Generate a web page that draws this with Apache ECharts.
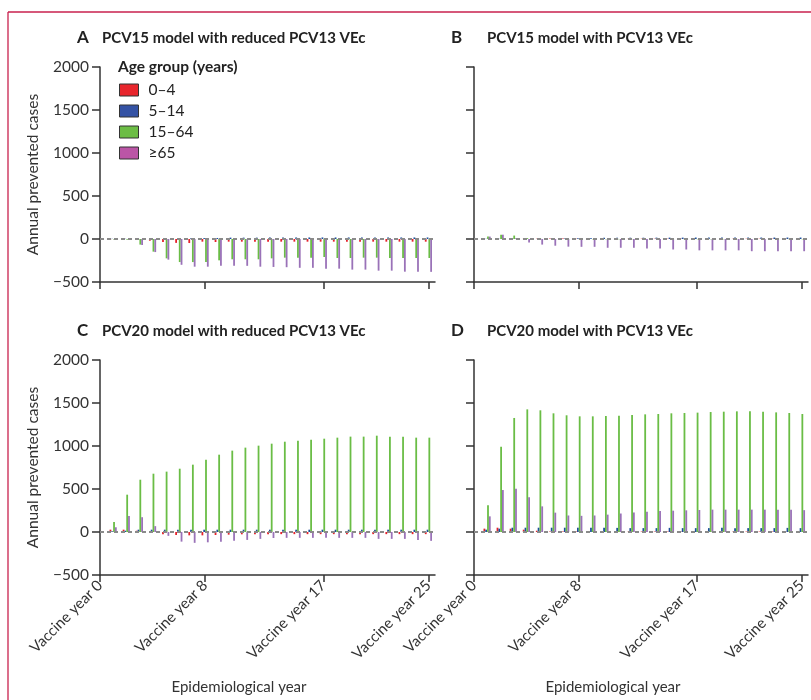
<!DOCTYPE html>
<html>
<head>
<meta charset="utf-8">
<title>Annual prevented cases by age group</title>
<script src="https://cdn.jsdelivr.net/npm/echarts@6/dist/echarts.min.js"></script>
<style>
  html, body { margin: 0; padding: 0; background: #fff; }
  #main { width: 811px; height: 700px; }
</style>
</head>
<body>
<div id="main"></div>
<script>
// epidemiological years with bars (year 0 has none)
var years = [1, 2, 3, 4, 5, 6, 7, 8, 9, 10, 11, 12, 13, 14, 15, 16, 17, 18, 19, 20, 21, 22, 23, 24, 25];
var tickYears = [0, 8, 17, 25];
var ageGroups = ['0–4', '5–14', '15–64', '≥65'];

// A  PCV15 model with reduced PCV13 VEc
var aRed = [-4, -6, -8, -20, -35, -45, -47, -31, -35, -31, -31, -31, -31, -31, -31, -31, -31, -31, -31, -31, -31, -31, -31, -31, -31];
var aBlue = [2, 2, 0, 3, 5, 6, 8, 10, 12, 16, 16, 16, 18, 18, 18, 18, 18, 18, 18, 18, 18, 18, 18, 18, 18];
var aGreen = [-5, -8, -65, -147, -225, -268, -268, -268, -248, -236, -236, -236, -225, -217, -217, -217, -209, -221, -221, -217, -217, -221, -221, -221, -221];
var aPurple = [-5, -10, -70, -152, -240, -300, -322, -322, -312, -312, -312, -322, -325, -328, -335, -335, -345, -345, -356, -356, -368, -368, -380, -380, -382];

// B  PCV15 model with PCV13 VEc
var bRed = [0, 3, 5, 3, 3, 5, 5, 3, 3, 3, 3, 3, 3, 3, 3, 3, 3, 3, 3, 3, 3, 3, 3, 3, 3];
var bBlue = [2, 2, 2, 3, 5, 5, 6, 8, 10, 14, 15, 15, 15, 16, 16, 16, 17, 17, 17, 17, 17, 17, 17, 17, 17];
var bGreen = [30, 50, 40, 10, 3, -5, -5, -5, -3, -3, -3, -3, -3, -3, -3, -3, -3, -3, -3, -3, -3, -3, -3, -3, -3];
var bPurple = [28, 50, 8, -40, -65, -78, -89, -91, -91, -102, -102, -102, -110, -110, -122, -122, -132, -132, -132, -132, -142, -142, -142, -142, -142];

// C  PCV20 model with reduced PCV13 VEc
var cRed = [27, 27, 15, 5, -27, -35, -39, -39, -35, -31, -27, -25, -25, -25, -25, -25, -25, -25, -25, -25, -25, -25, -25, -25, -25];
var cBlue = [8, 15, 27, 27, 27, 27, 27, 27, 27, 27, 27, 27, 27, 27, 27, 27, 27, 27, 27, 27, 27, 27, 27, 27, 27];
var cGreen = [115, 434, 608, 678, 702, 736, 783, 841, 899, 946, 981, 1004, 1027, 1050, 1062, 1074, 1085, 1097, 1109, 1109, 1120, 1109, 1109, 1097, 1097];
var cPurple = [55, 185, 172, 68, -45, -112, -126, -120, -112, -103, -92, -80, -70, -68, -68, -68, -68, -68, -68, -68, -80, -80, -80, -92, -103];

// D  PCV20 model with PCV13 VEc
var dRed = [39, 50, 39, 27, 15, 5, 5, 5, 5, 5, 5, 5, 5, 5, 5, 5, 5, 5, 5, 5, 5, 5, 5, 5, 5];
var dBlue = [27, 39, 50, 50, 50, 50, 50, 50, 50, 50, 48, 45, 45, 45, 48, 45, 45, 45, 48, 45, 45, 45, 45, 48, 45];
var dGreen = [310, 992, 1326, 1426, 1415, 1380, 1357, 1345, 1345, 1349, 1353, 1360, 1368, 1372, 1380, 1384, 1388, 1395, 1399, 1403, 1403, 1399, 1391, 1384, 1372];
var dPurple = [182, 488, 502, 405, 298, 225, 192, 188, 192, 202, 215, 227, 236, 244, 248, 252, 256, 260, 260, 260, 260, 260, 260, 258, 254];

var font = 'Lato, "Noto Sans", sans-serif';
var barColors = ['#e5202a', '#1c4f9c', '#6abd45', '#9a72b8'];
var legendColors = ['#e8262d', '#3452a4', '#6cbd45', '#bb55a6'];

var panels = [
  { letter: 'A', title: 'PCV15 model with reduced PCV13 VEc', grid: { left: 100, top: 67, width: 335, height: 215 },
    yLabels: true, xLabels: false, data: [aRed, aBlue, aGreen, aPurple] },
  { letter: 'B', title: 'PCV15 model with PCV13 VEc', grid: { left: 474, top: 67, width: 334, height: 215 },
    yLabels: false, xLabels: false, data: [bRed, bBlue, bGreen, bPurple] },
  { letter: 'C', title: 'PCV20 model with reduced PCV13 VEc', grid: { left: 100, top: 360, width: 335, height: 215 },
    yLabels: true, xLabels: true, data: [cRed, cBlue, cGreen, cPurple] },
  { letter: 'D', title: 'PCV20 model with PCV13 VEc', grid: { left: 474, top: 360, width: 334, height: 215 },
    yLabels: false, xLabels: true, data: [dRed, dBlue, dGreen, dPurple] }
];

var axisStyle = { color: '#333', width: 1.5 };

var grids = [], xAxes = [], yAxes = [], series = [], graphics = [];

panels.forEach(function (p, i) {
  grids.push(p.grid);
  xAxes.push({
    type: 'value', gridIndex: i, min: 0, max: 25.5,
    axisLine: { show: true, onZero: false, lineStyle: axisStyle },
    axisTick: { show: true, length: 7, customValues: tickYears, lineStyle: axisStyle },
    axisLabel: {
      show: p.xLabels, customValues: tickYears, rotate: 45, margin: 8,
      fontFamily: font, fontSize: 15, color: '#333',
      formatter: function (v) { return 'Vaccine year ' + v; }
    },
    splitLine: { show: false }
  });
  yAxes.push({
    type: 'value', gridIndex: i, min: -500, max: 2000, interval: 500,
    name: p.yLabels ? 'Annual prevented cases' : '',
    nameLocation: 'middle', nameGap: 59,
    nameTextStyle: { fontFamily: font, fontSize: 15.5, color: '#333' },
    axisLine: { show: true, lineStyle: axisStyle },
    axisTick: { show: true, length: 8, lineStyle: axisStyle },
    axisLabel: {
      show: p.yLabels, margin: 11, fontFamily: font, fontSize: 15.5, color: '#333',
      formatter: function (v) { return v < 0 ? '\u2212' + Math.abs(v) : String(v); }
    },
    splitLine: { show: false }
  });
  p.data.forEach(function (vals, k) {
    var s = {
      name: ageGroups[k], type: 'bar', xAxisIndex: i, yAxisIndex: i,
      barWidth: 1.8, barGap: '0%',
      itemStyle: { color: barColors[k] },
      data: years.map(function (y, j) { return [y, vals[j]]; })
    };
    if (k === 3) {
      s.markLine = {
        silent: true, symbol: 'none', label: { show: false },
        lineStyle: { color: '#8a8a8a', type: [4, 3], width: 2 },
        data: [{ yAxis: 0 }]
      };
    }
    series.push(s);
  });

  var g = p.grid;
  graphics.push({ type: 'text', x: g.left - 23, y: g.top - 29,
    style: { text: p.letter, font: 'bold 17px ' + font, fill: '#222', verticalAlign: 'middle' } });
  graphics.push({ type: 'text', x: g.left + 2 + (i % 2 ? 11 : 0), y: g.top - 29,
    style: { text: p.title, font: 'bold 15px ' + font, fill: '#222', verticalAlign: 'middle' } });
  if (p.xLabels) {
    graphics.push({ type: 'text', x: g.left + 139, y: 687,
      style: { text: 'Epidemiological year', font: '15px ' + font, fill: '#333', align: 'center', verticalAlign: 'middle' } });
  }
});

// legend title and page frame
graphics.push({ type: 'text', x: 118, y: 67,
  style: { text: 'Age group (years)', font: 'bold 15.5px ' + font, fill: '#222', verticalAlign: 'middle' } });
graphics.push({ type: 'line', shape: { x1: 8, y1: 12, x2: 811, y2: 12 }, style: { stroke: '#c8214e', lineWidth: 1.3 } });
graphics.push({ type: 'line', shape: { x1: 8, y1: 12, x2: 8, y2: 700 }, style: { stroke: '#c8214e', lineWidth: 1.3 } });

var myChart = echarts.init(document.getElementById('main'));
myChart.setOption({
  animation: false,
  backgroundColor: '#fff',
  grid: grids,
  xAxis: xAxes,
  yAxis: yAxes,
  legend: {
    orient: 'vertical', left: 119, top: 82, padding: 0,
    icon: 'rect', itemWidth: 19, itemHeight: 12, itemGap: 5,
    textStyle: { fontFamily: font, fontSize: 15.5, color: '#222', padding: [0, 0, 0, 5] },
    data: ageGroups.map(function (n, k) {
      return { name: n, itemStyle: { color: legendColors[k], borderColor: '#333', borderWidth: 1 } };
    })
  },
  graphic: graphics,
  series: series
});
</script>
</body>
</html>
